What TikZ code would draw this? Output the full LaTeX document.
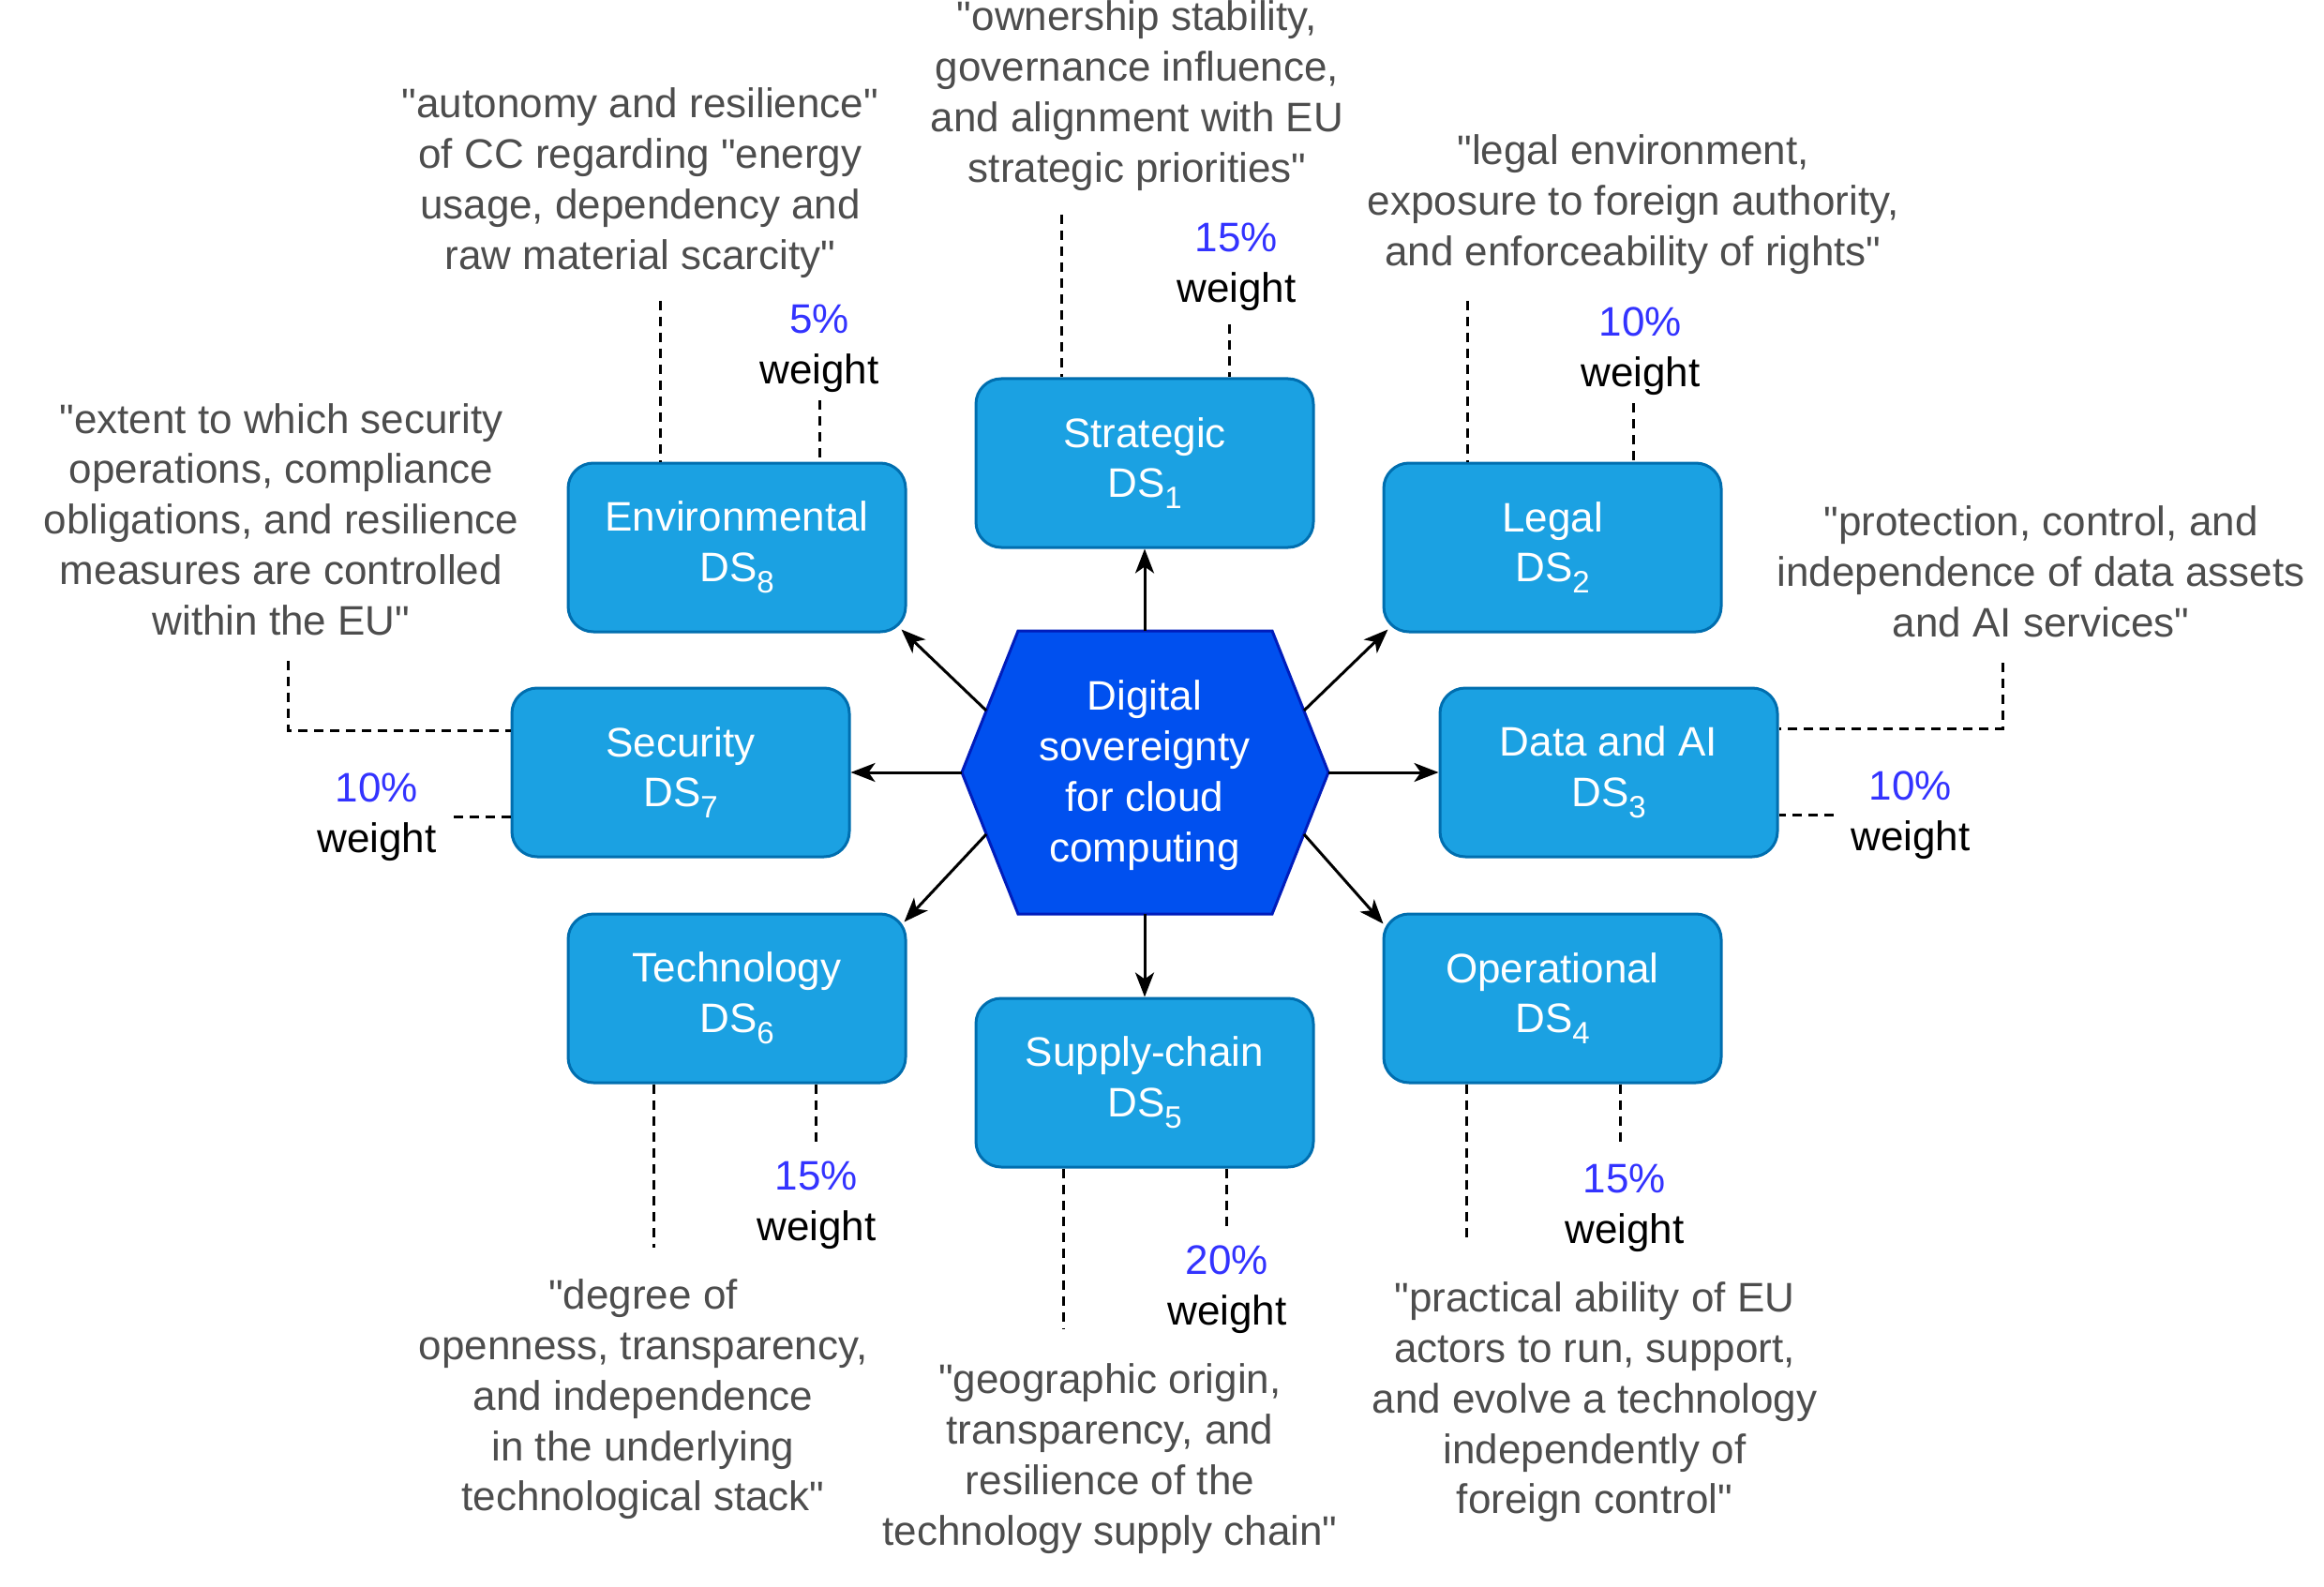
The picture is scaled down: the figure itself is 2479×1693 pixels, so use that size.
\documentclass[tikz,border=0pt]{standalone}
\usepackage{fontspec}
\setmainfont{Liberation Sans}[Ligatures=TeXOff]
\usetikzlibrary{arrows.meta,calc}
\definecolor{boxblue}{HTML}{1BA1E2}
\definecolor{boxedge}{HTML}{006EAF}
\definecolor{hexblue}{HTML}{0050EF}
\definecolor{hexedge}{HTML}{001DBC}
\definecolor{quotegray}{HTML}{4D4D4D}
\definecolor{pctblue}{HTML}{3333FF}
\newcommand\bigtxt{\fontsize{44}{53.8}\selectfont}
\newcommand\subn[1]{\raisebox{-12pt}[\height]{\fontsize{33}{33}\selectfont #1}}
\newcommand\pct[1]{{\color{pctblue}#1}\\weight}
\begin{document}
\begin{tikzpicture}[x=1pt,y=-1pt,
  dsbox/.style={rectangle,rounded corners=27pt,fill=boxblue,draw=boxedge,line width=3pt,
    minimum width=360pt,minimum height=180pt,text=white,align=center,font=\bigtxt,inner sep=0pt},
  quotetxt/.style={text=quotegray,align=center,font=\bigtxt,inner sep=0pt},
  wtlabel/.style={text=black,align=center,font=\bigtxt,inner sep=0pt},
  dashline/.style={line width=3pt,dash pattern=on 10pt off 7pt},
  arrowline/.style={line width=3pt,-{Stealth[length=26pt,width=20pt,inset=7pt]}}]
\useasboundingbox (0,0) rectangle (2479,1693);

% hexagon
\draw[fill=hexblue,draw=hexedge,line width=3pt,line join=miter]
  (1026,824) -- (1086,673) -- (1357,673) -- (1417,824) -- (1357,975) -- (1086,975) -- cycle;
\node[text=white,align=center,font=\bigtxt,inner sep=0pt] (hex) at (1221,827)
  {Digital\\sovereignty\\for cloud\\computing};
\coordinate (hT) at (1221,673);
\coordinate (hB) at (1221,975);
\coordinate (hL) at (1026,824);
\coordinate (hR) at (1417,824);
\coordinate (hUL) at (1052,758);
\coordinate (hUR) at (1391,758);
\coordinate (hLL) at (1052,890);
\coordinate (hLR) at (1391,890);

% boxes
\node[dsbox] (str) at (1221,494) {Strategic\\DS\subn{1}};
\node[dsbox] (env) at (786,584) {Environmental\\DS\subn{8}};
\node[dsbox] (leg) at (1656,584) {Legal\\DS\subn{2}};
\node[dsbox] (sec) at (726,824) {Security\\DS\subn{7}};
\node[dsbox] (dat) at (1716,824) {Data and AI\\DS\subn{3}};
\node[dsbox] (tec) at (786,1065) {Technology\\DS\subn{6}};
\node[dsbox] (ope) at (1656,1065) {Operational\\DS\subn{4}};
\node[dsbox] (sup) at (1221,1155) {Supply-chain\\DS\subn{5}};

% arrows
\draw[arrowline] (hT) -- (str.south);
\draw[arrowline] (hB) -- (sup.north);
\draw[arrowline] (hL) -- (sec.east);
\draw[arrowline] (hR) -- (dat.west);
\draw[arrowline] (hUL) -- ($(env.south east)+(-6,-4)$);
\draw[arrowline] (hUR) -- ($(leg.south west)+(6,-4)$);
\draw[arrowline] (hLL) -- ($(tec.north east)+(-3,10)$);
\draw[arrowline] (hLR) -- ($(ope.north west)+(1,12)$);

% quotes
\node[quotetxt] (qstr) at (1213,102) {"ownership stability,\\governance influence,\\and alignment with EU\\strategic priorities"};
\node[quotetxt] (qenv) at (683,195) {"autonomy and resilience"\\of CC regarding "energy\\usage, dependency and\\raw material scarcity"};
\node[quotetxt] (qleg) at (1742,218) {"legal environment,\\exposure to foreign authority,\\and enforceability of rights"};
\node[quotetxt] (qsec) at (300,554) {"extent to which security\\operations, compliance\\obligations, and resilience\\measures are controlled\\within the EU"};
\node[quotetxt] (qdat) at (2177,610) {"protection, control, and\\independence of data assets\\and AI services"};
\node[quotetxt] (qtec) at (686,1493) {"degree of\\openness, transparency,\\and independence\\in the underlying\\technological stack"};
\node[quotetxt] (qsup) at (1184,1556) {"geographic origin,\\transparency, and\\resilience of the\\technology supply chain"};
\node[quotetxt] (qope) at (1701,1496) {"practical ability of EU\\actors to run, support,\\and evolve a technology\\independently of\\foreign control"};

% weights
\node[wtlabel] (wstr) at (1319,285) {\pct{15\%}};
\node[wtlabel] (wenv) at (874,372) {\pct{5\%}};
\node[wtlabel] (wleg) at (1750,375) {\pct{10\%}};
\node[wtlabel] (wsec) at (402,872) {\pct{10\%}};
\node[wtlabel] (wdat) at (2038,870) {\pct{10\%}};
\node[wtlabel] (wtec) at (871,1286) {\pct{15\%}};
\node[wtlabel] (wsup) at (1309,1376) {\pct{20\%}};
\node[wtlabel] (wope) at (1733,1289) {\pct{15\%}};

% dashed connectors
\coordinate (s1) at (1132,229); \draw[dashline] (s1) -- (s1 |- str.north);
\coordinate (s2) at (1311,346); \draw[dashline] (s2) -- (s2 |- str.north);
\coordinate (e1) at (704,321);  \draw[dashline] (e1) -- (e1 |- env.north);
\coordinate (e2) at (874,427);  \draw[dashline] (e2) -- (e2 |- env.north);
\coordinate (l1) at (1565,321); \draw[dashline] (l1) -- (l1 |- leg.north);
\coordinate (l2) at (1742,430); \draw[dashline] (l2) -- (l2 |- leg.north);
\coordinate (t1) at (697,1331); \draw[dashline] (t1 |- tec.south) -- (t1);
\coordinate (t2) at (870,1219); \draw[dashline] (t2 |- tec.south) -- (t2);
\coordinate (p1) at (1134,1418); \draw[dashline] (p1 |- sup.south) -- (p1);
\coordinate (p2) at (1308,1309); \draw[dashline] (p2 |- sup.south) -- (p2);
\coordinate (o1) at (1564,1325); \draw[dashline] (o1 |- ope.south) -- (o1);
\coordinate (o2) at (1728,1219); \draw[dashline] (o2 |- ope.south) -- (o2);
\coordinate (sq) at (307,705); \coordinate (sqc) at (307,779);
\draw[dashline] (sq) -- (sqc) -- (sqc -| sec.west);
\coordinate (sw) at (484,871); \draw[dashline] (sw) -- (sw -| sec.west);
\coordinate (dq) at (2136,707); \coordinate (dqc) at (2136,777);
\draw[dashline] (dq) -- (dqc) -- (dqc -| dat.east);
\coordinate (dw) at (1956,869); \draw[dashline] (dw) -- (dw -| dat.east);
\end{tikzpicture}
\end{document}
